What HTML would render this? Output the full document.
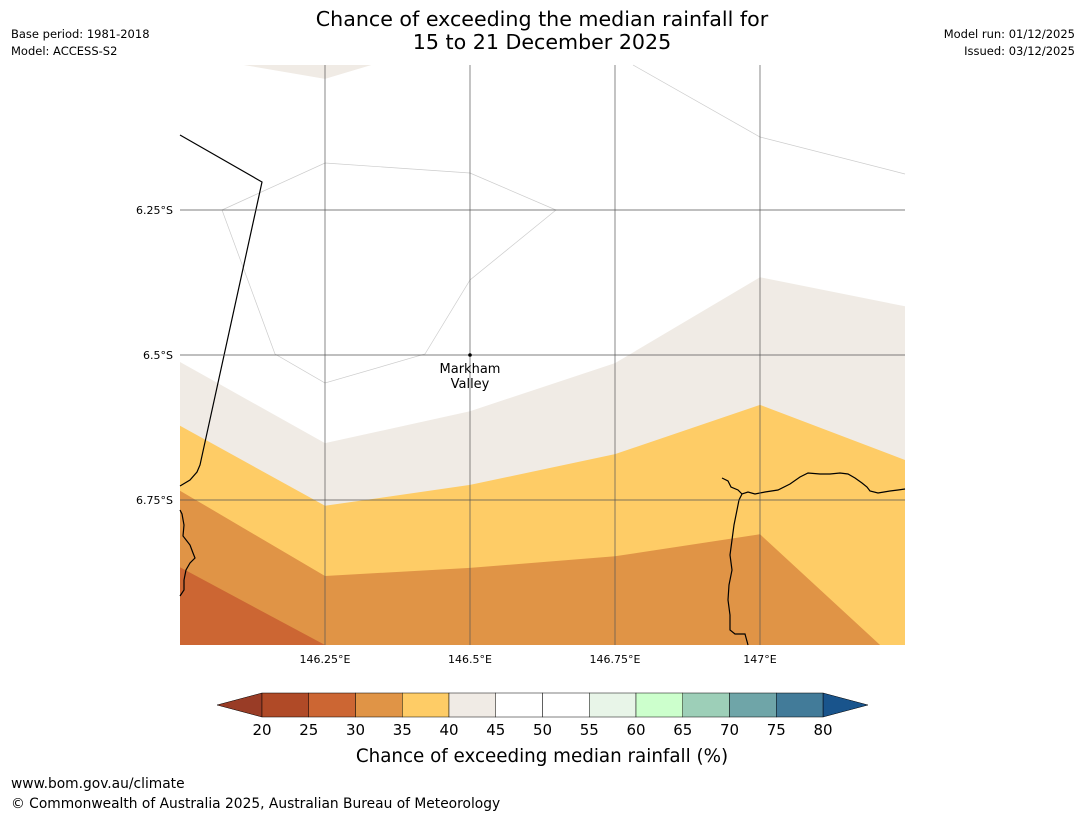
<!DOCTYPE html>
<html><head><meta charset="utf-8">
<style>
body{margin:0;background:#fff;width:1085px;height:816px;overflow:hidden;font-family:"DejaVu Sans","Liberation Sans",sans-serif;}
svg text{font-family:"DejaVu Sans","Liberation Sans",sans-serif;}
</style></head>
<body>
<svg id="chart" width="1085" height="816" xmlns="http://www.w3.org/2000/svg">
<text x="542" y="26" font-size="20.6" text-anchor="middle">Chance of exceeding the median rainfall for</text>
<text x="542" y="49" font-size="20.6" text-anchor="middle">15 to 21 December 2025</text>
<text x="11" y="38" font-size="11.5">Base period: 1981-2018</text>
<text x="11" y="55" font-size="11.5">Model: ACCESS-S2</text>
<text x="1075" y="38" font-size="11.5" text-anchor="end">Model run: 01/12/2025</text>
<text x="1075" y="55" font-size="11.5" text-anchor="end">Issued: 03/12/2025</text>
<g id="map"></g>
<g id="cbar"></g>
<text x="542" y="762" font-size="18.3" text-anchor="middle">Chance of exceeding median rainfall (%)</text>
<text x="11" y="788" font-size="13.8">www.bom.gov.au/climate</text>
<text x="11" y="808" font-size="13.8">© Commonwealth of Australia 2025, Australian Bureau of Meteorology</text>
</svg>
<script>
const lonTicks=[146.25,146.5,146.75,147];
const lonLabels=["146.25°E","146.5°E","146.75°E","147°E"];
const latTicks=[6.25,6.5,6.75];
const latLabels=["6.25°S","6.5°S","6.75°S"];
const contourLons=[146.0,146.25,146.5,146.75,147.0,147.25];
const beigeTop=[6.512,6.652,6.597,6.514,6.366,6.416];
const yellowTop=[6.622,6.760,6.724,6.671,6.586,6.681];
const orangeTop=[6.734,6.881,6.867,6.847,6.809];
const orangeEndLon=147.207;
const darkTop=[6.866,7.0];
const topBeigeLons=[146.11,146.25,146.33];
const topBeigeLats=[6.0,6.024,6.0];
const bandColors=["#993c26","#b04a27","#cc6633","#e09446","#fecc66","#f0ebe5","#ffffff","#ffffff","#e8f5e8","#ccffcc","#9dcfb8","#6fa5a8","#427b99","#19548c"];
const bandLabels=["20","25","30","35","40","45","50","55","60","65","70","75","80"];
const placeName=["Markham","Valley"];
const placeLon=146.5, placeLat=6.5;

const NS="http://www.w3.org/2000/svg";
const X0=180,X1=905,Y0=65,Y1=645;
const xs=lon=>X0+(lon-146.0)/1.25*(X1-X0);
const ys=lat=>Y0+(lat-6.0)/1.0*(Y1-Y0);
function mk(tag,attrs,parent){const e=document.createElementNS(NS,tag);for(const k in attrs)e.setAttribute(k,attrs[k]);parent.appendChild(e);return e;}
const map=document.getElementById('map');
mk('rect',{x:X0,y:Y0,width:X1-X0,height:Y1-Y0,fill:'#fff'},map);
function poly(s,color,name){
  const e=mk('polygon',{points:s,fill:color},map);
  
  
}
poly(topBeigeLons.map((l,i)=>xs(l)+","+ys(topBeigeLats[i])).join(" "),bandColors[5],'contour-40-45-top');
function bandDown(top,color,name){
  let s=contourLons.slice(0,top.length).map((l,i)=>xs(l)+","+ys(top[i])).join(" ");
  s+=" "+xs(contourLons[top.length-1])+","+ys(7)+" "+xs(146)+","+ys(7);
  poly(s,color,name);
}
bandDown(beigeTop,bandColors[5],'contour-40-45');
bandDown(yellowTop,bandColors[4],'contour-35-40');
{let s=contourLons.slice(0,orangeTop.length).map((l,i)=>xs(l)+","+ys(orangeTop[i])).join(" ")+" "+xs(orangeEndLon)+","+ys(7)+" "+xs(146)+","+ys(7);
 poly(s,bandColors[3],'contour-30-35');}
{let s=xs(contourLons[0])+","+ys(darkTop[0])+" "+xs(contourLons[1])+","+ys(darkTop[1])+" "+xs(146)+","+ys(7);
 poly(s,bandColors[2],'contour-25-30');}
// thin 50% contours
{const e=mk('polyline',{points:"222,210 325,163 470,173 556,210 470,280 425,354 325,383 275,354 222,210",fill:'none',stroke:'#ccc','stroke-width':0.7},map);
 
 
 const f=mk('polyline',{points:"633,65 760,137 905,174",fill:'none',stroke:'#ccc','stroke-width':0.7},map);
 
 }
// coastlines
{const e=mk('polyline',{points:"180,135 262,182 200,465 197,472 190,480 180,486",fill:'none',stroke:'#000','stroke-width':1.2},map);
 
 
 const f=mk('polyline',{points:"180,510 182,514 184,525 183,536 190,545 193,553 195,558 190,563 186,570 184,580 184,590 180,596",fill:'none',stroke:'#000','stroke-width':1.2},map);
 
 
 const g=mk('polyline',{points:"722,478 728,481 731,487 738,490 742,494 748,492 755,494 765,492 778,490 790,484 800,477 808,473 820,474 830,474 840,473 848,474 855,478 862,483 867,487 870,491 878,493 884,492 890,491 898,490 905,489",fill:'none',stroke:'#000','stroke-width':1.2},map);
 
 
 const h=mk('polyline',{points:"742,494 739,500 737,510 734,525 732,540 730,555 732,570 729,585 728,600 730,615 730,630 735,634 745,634 748,645",fill:'none',stroke:'#000','stroke-width':1.2},map);
 
 }
lonTicks.forEach((l,i)=>{
  const e=mk('line',{x1:xs(l),x2:xs(l),y1:Y0,y2:Y1,stroke:'#555','stroke-width':0.7},map);
  
  
  const t=mk('text',{x:xs(l),y:Y1+18,'font-size':11,'text-anchor':'middle'},map);t.textContent=lonLabels[i];
  
  
});
latTicks.forEach((l,i)=>{
  const e=mk('line',{x1:X0,x2:X1,y1:ys(l),y2:ys(l),stroke:'#555','stroke-width':0.7},map);
  
  
  const t=mk('text',{x:X0-7,y:ys(l)+4,'font-size':11,'text-anchor':'end'},map);t.textContent=latLabels[i];
  
  
});
{const d=mk('circle',{cx:xs(placeLon),cy:ys(placeLat),r:1.8,fill:'#000'},map);
 
 
 placeName.forEach((n,i)=>{const t=mk('text',{x:xs(placeLon),y:ys(placeLat)+18+i*15,'font-size':13,'text-anchor':'middle'},map);t.textContent=n;
 
 });}
const cb=document.getElementById('cbar');
const CX0=262,CX1=823,CY=693,CH=24,w=(CX1-CX0)/12;
{const e=mk('polygon',{points:`217,705 ${CX0},${CY} ${CX0},${CY+CH}`,fill:bandColors[0],stroke:'#000','stroke-width':0.5},cb);
 
 
 const f=mk('polygon',{points:`868,705 ${CX1},${CY} ${CX1},${CY+CH}`,fill:bandColors[13],stroke:'#000','stroke-width':0.5},cb);
 
 }
for(let i=0;i<12;i++){
  const r=mk('rect',{x:CX0+i*w,y:CY,width:w,height:CH,fill:bandColors[i+1],stroke:'#000','stroke-width':0.5},cb);
  
  
}
bandLabels.forEach((b,i)=>{const t=mk('text',{x:CX0+i*w,y:735,'font-size':15,'text-anchor':'middle'},cb);t.textContent=b;
 
 });
</script>
</body></html>
